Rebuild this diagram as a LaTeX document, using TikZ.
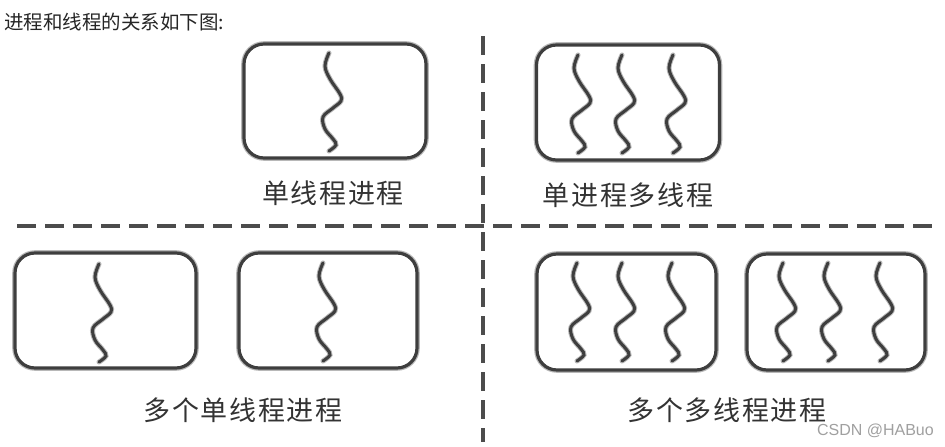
\documentclass[tikz,border=0pt]{standalone}
\usepackage{fontspec}
\newfontfamily\cjk{Noto Sans CJK SC}
\newfontfamily\cjklab{Noto Sans CJK SC}[LetterSpace=6]
\setsansfont{Liberation Sans}
\definecolor{boxgray}{HTML}{3E3E3E}
\definecolor{blurgray}{HTML}{B8B8B8}
\definecolor{labgray}{HTML}{333333}
\definecolor{markgray}{HTML}{A0A0A0}
\tikzset{
  procbox/.style={draw=boxgray, line width=3.2pt, rounded corners=20pt,
    preaction={draw=blurgray, line width=5.6pt},
    inner sep=0pt, fill=white},
  threadline/.style={draw=boxgray, line width=3pt, line cap=round,
    preaction={draw=blurgray, line width=5pt, line cap=round}},
  sepline/.style={draw=black!70, line width=4pt, dash pattern=on 19pt off 9pt},
  caption/.style={font=\cjklab\fontsize{27}{30}\selectfont, text=labgray, inner sep=0pt},
  pics/thread/.style={code={
    \draw[threadline] plot[smooth, tension=0.6] coordinates
      {(0,0) (-4,13) (1,26) (11,41) (12,48) (4,55) (-6,64) (-4,76) (4,86) (7,92) (0,98)};
  }}
}
\begin{document}
\begin{tikzpicture}[x=1pt, y=-1pt]
\useasboundingbox[fill=white] (0,0) rectangle (945,447);

% separators
\coordinate (hs) at (17,226);
\coordinate (he) at (936,226);
\coordinate (vs) at (483,36);
\coordinate (ve) at (483,442);
\draw[sepline] (hs) -- (he);
\draw[sepline] (vs) -- (ve);

% title
\node[anchor=west, inner sep=0pt, text=black!85, font=\cjk\fontsize{19.5}{22}\selectfont] (title) at (4,22) {进程和线程的关系如下图:};

% boxes
\node[procbox, minimum width=182pt, minimum height=114pt] (A) at (335,101) {};
\node[procbox, minimum width=183pt, minimum height=115pt] (B) at (628,102.5) {};
\node[procbox, minimum width=181pt, minimum height=115pt] (C) at (105.5,310.5) {};
\node[procbox, minimum width=178pt, minimum height=115pt] (D) at (328,310.5) {};
\node[procbox, minimum width=179pt, minimum height=116pt] (E) at (626.5,312) {};
\node[procbox, minimum width=178pt, minimum height=116pt] (F) at (836,312) {};

% threads
\pic at (329,53) {thread};
\pic at (578,55) {thread};
\pic at (622,55) {thread};
\pic at (673,55) {thread};
\pic at (99,264) {thread};
\pic at (323,263) {thread};
\pic at (577,263) {thread};
\pic at (622,263) {thread};
\pic at (672,263) {thread};
\pic at (783,263) {thread};
\pic at (828,263) {thread};
\pic at (880,263) {thread};

% captions
\node[caption] (LA) at (333,193) {单线程进程};
\node[caption] (LB) at (628,195) {单进程多线程};
\node[caption] (LC) at (243,410) {多个单线程进程};
\node[caption] (LF) at (727,410) {多个多线程进程};

% watermark
\node[anchor=east, inner sep=0pt, text=markgray, font=\sffamily\fontsize{16}{18}\selectfont] (wm) at (934,431) {CSDN @HABuo};
\end{tikzpicture}
\end{document}
